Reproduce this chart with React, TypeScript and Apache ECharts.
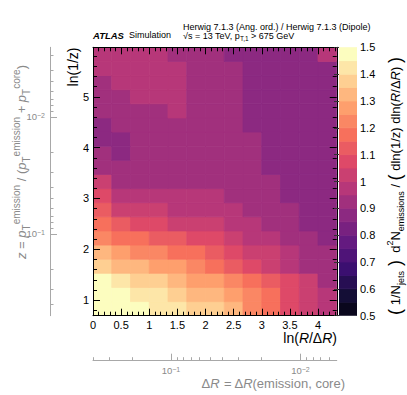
import React, { useEffect, useRef } from 'react';
import * as echarts from 'echarts';

const FONT = '"Liberation Sans", Arial, Helvetica, sans-serif';
const GRAY_TEXT = '#8a8a8a';
const GRAY_AXIS = '#a8a8a8';

// ---- binning of the Lund plane ----
const jetRadius = 0.4;
const lnRBinWidth = 1 / 3;
const lnRBinCount = 13;
const lnZMin = 0.693;
const lnZBinWidth = 0.278;
const lnZBinCount = 19;

// ---- ratio values: row 0 = lowest ln(1/z) bin, columns = ln(R/ΔR) bins ----
const ratioRows: number[][] = [
  [1.47, 1.47, 1.47, 1.42, 1.42, 1.37, 1.37, 1.32, 1.22, 1.17, 1.07, 1.02, 0.97],
  [1.47, 1.47, 1.42, 1.42, 1.37, 1.32, 1.32, 1.27, 1.22, 1.17, 1.07, 1.02, 0.97],
  [1.47, 1.42, 1.37, 1.37, 1.32, 1.27, 1.27, 1.22, 1.17, 1.12, 1.07, 1.02, 0.92],
  [1.37, 1.32, 1.32, 1.27, 1.27, 1.22, 1.17, 1.12, 1.07, 1.02, 0.97, 0.92, 0.92],
  [1.32, 1.27, 1.22, 1.22, 1.17, 1.17, 1.12, 1.07, 1.02, 1.02, 0.97, 0.92, 0.92],
  [1.22, 1.17, 1.17, 1.12, 1.12, 1.07, 1.07, 1.02, 0.97, 0.97, 0.92, 0.92, 0.87],
  [1.17, 1.12, 1.07, 1.07, 1.02, 1.02, 1.02, 0.97, 0.97, 0.92, 0.92, 0.87, 0.87],
  [1.12, 1.02, 1.02, 1.02, 0.97, 0.97, 0.97, 0.97, 0.92, 0.92, 0.92, 0.87, 0.87],
  [1.07, 0.97, 0.97, 0.97, 0.97, 0.97, 0.97, 0.92, 0.92, 0.92, 0.87, 0.87, 0.87],
  [1.02, 0.92, 0.92, 0.92, 0.92, 0.92, 0.92, 0.92, 0.92, 0.92, 0.87, 0.87, 0.87],
  [0.92, 0.92, 0.92, 0.92, 0.92, 0.92, 0.92, 0.92, 0.92, 0.87, 0.87, 0.87, 0.87],
  [0.92, 0.87, 0.92, 0.92, 0.92, 0.92, 0.92, 0.92, 0.92, 0.87, 0.87, 0.87, 0.87],
  [0.87, 0.87, 0.92, 0.92, 0.92, 0.92, 0.92, 0.92, 0.92, 0.87, 0.87, 0.87, 0.87],
  [0.87, 0.92, 0.92, 0.92, 0.92, 0.92, 0.92, 0.92, 0.87, 0.87, 0.87, 0.87, 0.87],
  [0.92, 0.92, 0.92, 0.92, 0.97, 0.92, 0.92, 0.92, 0.87, 0.87, 0.87, 0.87, 0.87],
  [0.92, 0.92, 0.97, 0.97, 0.97, 0.92, 0.92, 0.92, 0.87, 0.87, 0.87, 0.87, 0.87],
  [0.92, 0.97, 0.97, 0.97, 0.97, 0.92, 0.92, 0.92, 0.87, 0.87, 0.87, 0.87, 0.87],
  [0.97, 0.97, 0.97, 0.97, 0.97, 0.92, 0.92, 0.92, 0.87, 0.87, 0.87, 0.87, 0.87],
  [0.97, 0.97, 0.97, 0.97, 0.92, 0.92, 0.92, 0.87, 0.87, 0.87, 0.87, 0.87, 0.97],
];

// ---- colour scale levels ----
const levelEdges = [0.5, 0.55, 0.6, 0.65, 0.7, 0.75, 0.8, 0.85, 0.9, 0.95, 1.0,
  1.05, 1.1, 1.15, 1.2, 1.25, 1.3, 1.35, 1.4, 1.45, 1.5];
const colorbarTicks = [0.5, 0.6, 0.7, 0.8, 0.9, 1.0, 1.1, 1.2, 1.3, 1.4, 1.5];

// ---- axis ticks ----
const xMajorTicks = [0, 0.5, 1, 1.5, 2, 2.5, 3, 3.5, 4];
const xMinorTicks = [0.1, 0.2, 0.3, 0.4, 0.6, 0.7, 0.8, 0.9, 1.1, 1.2, 1.3, 1.4, 1.6, 1.7, 1.8, 1.9,
  2.1, 2.2, 2.3, 2.4, 2.6, 2.7, 2.8, 2.9, 3.1, 3.2, 3.3, 3.4, 3.6, 3.7, 3.8, 3.9, 4.1, 4.2, 4.3];
const yMajorTicks = [1, 2, 3, 4, 5];
const yMinorTicks = [0.8, 1.2, 1.4, 1.6, 1.8, 2.2, 2.4, 2.6, 2.8, 3.2, 3.4, 3.6, 3.8,
  4.2, 4.4, 4.6, 4.8, 5.2, 5.4, 5.6, 5.8];
const zMajorTicks = [0.1, 0.01];
const zMinorTicks = [0.4, 0.3, 0.2, 0.09, 0.08, 0.07, 0.06, 0.05, 0.04, 0.03, 0.02,
  0.009, 0.008, 0.007, 0.006, 0.005, 0.004, 0.003];
const dRMajorTicks = [0.1, 0.01];
const dRMinorTicks = [0.4, 0.3, 0.2, 0.09, 0.08, 0.07, 0.06, 0.05, 0.04, 0.03, 0.02,
  0.009, 0.008, 0.007, 0.006];

// ---- magma colour map (decile stops) ----
const magmaStops = ['#000004', '#140e36', '#3b0f70', '#641a80', '#8c2981', '#b73779',
  '#de4968', '#f7705c', '#fe9f6d', '#fecf92', '#fcfdbf'];

function hexToRgb(h: string) {
  return [1, 3, 5].map((i) => parseInt(h.slice(i, i + 2), 16));
}
function magma(t: number) {
  const s = Math.max(0, Math.min(1, t)) * (magmaStops.length - 1);
  const i = Math.min(magmaStops.length - 2, Math.floor(s));
  const f = s - i;
  const a = hexToRgb(magmaStops[i]);
  const b = hexToRgb(magmaStops[i + 1]);
  const c = a.map((v, k) => Math.round(v + (b[k] - v) * f));
  return `rgb(${c[0]},${c[1]},${c[2]})`;
}
const nLevels = levelEdges.length - 1;
// ROOT-style contour colouring: each level takes the palette colour near its upper end
const levelColors = levelEdges.slice(0, nLevels).map((_, i) => magma((i + 0.99) / nLevels));
function colorOf(v: number) {
  const lo = levelEdges[0];
  const hi = levelEdges[nLevels];
  const idx = Math.max(0, Math.min(nLevels - 1, Math.floor(((v - lo) / (hi - lo)) * nLevels + 1e-9)));
  return levelColors[idx];
}

const xMax = lnRBinCount * lnRBinWidth;
const yMax = lnZMin + lnZBinCount * lnZBinWidth;

const heatData: number[][] = [];
ratioRows.forEach((row, r) => {
  row.forEach((v, c) => {
    heatData.push([c * lnRBinWidth, (c + 1) * lnRBinWidth, lnZMin + r * lnZBinWidth, lnZMin + (r + 1) * lnZBinWidth, v]);
  });
});
const barData: number[][] = levelEdges.slice(0, nLevels).map((lo, i) => [0, 1, lo, levelEdges[i + 1], (lo + levelEdges[i + 1]) / 2]);

const renderCell = (_params: any, api: any) => {
  const a = api.coord([api.value(0), api.value(3)]);
  const b = api.coord([api.value(1), api.value(2)]);
  const col = colorOf(api.value(4));
  return {
    type: 'rect',
    shape: { x: a[0], y: a[1], width: b[0] - a[0], height: b[1] - a[1] },
    style: { fill: col, stroke: col, lineWidth: 0.8 },
  };
};

const PLOT = { left: 93, top: 47.3, width: 243.75, height: 268.4 };

const blackLine = { color: '#000', width: 1 };
const grayLine = { color: GRAY_AXIS, width: 1 };

function mainAxis(extra: any, ticks: number[], len: number, showLine: boolean, labels: boolean) {
  return {
    type: 'value',
    gridIndex: 0,
    z: 10,
    splitLine: { show: false },
    axisLine: { show: showLine, onZero: false, lineStyle: blackLine },
    axisTick: { show: true, inside: true, length: len, customValues: ticks, lineStyle: blackLine },
    axisLabel: labels
      ? { show: true, customValues: ticks, fontSize: 11, color: '#000', fontFamily: FONT, margin: 4 }
      : { show: false },
    ...extra,
  };
}

const logLabelFmt = (v: number) => {
  const e = Math.round(Math.log10(v));
  return `{b|10}{s|${e < 0 ? '\u2212' : ''}${Math.abs(e)}}`;
};
const logRich = {
  b: { fontSize: 9.5, color: GRAY_TEXT, fontFamily: FONT, lineHeight: 10, verticalAlign: 'bottom' },
  s: { fontSize: 7, color: GRAY_TEXT, fontFamily: FONT, lineHeight: 7, verticalAlign: 'top' },
};

function logAxis(extra: any, ticks: number[], len: number, showLine: boolean, labels: boolean) {
  return {
    type: 'log',
    logBase: 10,
    splitLine: { show: false },
    axisLine: { show: showLine, onZero: false, lineStyle: grayLine },
    axisTick: { show: true, inside: true, length: len, customValues: ticks, lineStyle: grayLine },
    axisLabel: labels
      ? { show: true, customValues: ticks, formatter: logLabelFmt, rich: logRich, margin: 5 }
      : { show: false },
    ...extra,
  };
}

const hidden = (gridIndex: number) => ({ type: 'value', gridIndex, show: false, min: 0, max: 1 });

const option = {
  animation: false,
  backgroundColor: '#ffffff',
  textStyle: { fontFamily: FONT },
  grid: [
    { ...PLOT },
    { left: 50, top: PLOT.top, width: 1, height: PLOT.height },
    { left: PLOT.left, top: 359.7, width: PLOT.width, height: 1 },
    { left: 339, top: PLOT.top, width: 18, height: PLOT.height },
  ],
  xAxis: [
    mainAxis({ position: 'bottom', min: 0, max: xMax }, xMajorTicks, 7, true, true),
    mainAxis({ position: 'bottom', min: 0, max: xMax }, xMinorTicks, 4, false, false),
    mainAxis({ position: 'top', min: 0, max: xMax }, xMajorTicks, 7, true, false),
    mainAxis({ position: 'top', min: 0, max: xMax }, xMinorTicks, 4, false, false),
    hidden(1),
    logAxis({ gridIndex: 2, position: 'bottom', inverse: true, min: jetRadius * Math.exp(-xMax), max: jetRadius * Math.exp(0) }, dRMajorTicks, 7, true, true),
    logAxis({ gridIndex: 2, position: 'bottom', inverse: true, min: jetRadius * Math.exp(-xMax), max: jetRadius * Math.exp(0) }, dRMinorTicks, 3.5, false, false),
    hidden(3),
  ],
  yAxis: [
    mainAxis({ position: 'left', min: lnZMin, max: yMax }, yMajorTicks, 7, true, true),
    mainAxis({ position: 'left', min: lnZMin, max: yMax }, yMinorTicks, 4, false, false),
    mainAxis({ position: 'right', min: lnZMin, max: yMax }, yMajorTicks, 7, true, false),
    mainAxis({ position: 'right', min: lnZMin, max: yMax }, yMinorTicks, 4, false, false),
    logAxis({ gridIndex: 1, position: 'left', inverse: true, min: Math.exp(-yMax), max: Math.exp(-lnZMin) }, zMajorTicks, 7, true, true),
    logAxis({ gridIndex: 1, position: 'left', inverse: true, min: Math.exp(-yMax), max: Math.exp(-lnZMin) }, zMinorTicks, 3.5, false, false),
    hidden(2),
    {
      type: 'value',
      gridIndex: 3,
      position: 'right',
      min: levelEdges[0],
      max: levelEdges[nLevels],
      z: 10,
      splitLine: { show: false },
      axisLine: { show: false },
      axisTick: { show: true, inside: true, length: 5, customValues: colorbarTicks, lineStyle: { color: '#333', width: 1 } },
      axisLabel: { show: true, customValues: colorbarTicks, fontSize: 11, color: '#000', fontFamily: FONT, margin: 3 },
    },
  ],
  series: [
    {
      type: 'custom',
      name: 'ratio',
      xAxisIndex: 0,
      yAxisIndex: 0,
      renderItem: renderCell,
      encode: { x: [0, 1], y: [2, 3] },
      data: heatData,
      clip: true,
      silent: true,
      z: 2,
    },
    {
      type: 'custom',
      name: 'colorbar',
      xAxisIndex: 7,
      yAxisIndex: 7,
      renderItem: renderCell,
      encode: { x: [0, 1], y: [2, 3] },
      data: barData,
      clip: true,
      silent: true,
      z: 2,
    },
  ],
  graphic: [
    {
      type: 'text', x: 93, y: 35.3,
      style: { text: 'ATLAS', fontSize: 9.5, fontWeight: 'bold', fontStyle: 'italic', fontFamily: FONT, fill: '#000', verticalAlign: 'middle' },
    },
    {
      type: 'text', x: 129, y: 35.3,
      style: { text: 'Simulation', fontSize: 9, fontFamily: FONT, fill: '#000', verticalAlign: 'middle' },
    },
    {
      type: 'text', x: 183, y: 27,
      style: { text: 'Herwig 7.1.3 (Ang. ord.) / Herwig 7.1.3 (Dipole)', fontSize: 9, fontFamily: FONT, fill: '#000', verticalAlign: 'middle' },
    },
    {
      type: 'text', x: 183, y: 35.8,
      style: {
        text: '{m|\u221As = 13 TeV, p}{sb|T,1}{m| > 675 GeV}',
        verticalAlign: 'middle',
        rich: {
          m: { fontSize: 9, fontFamily: FONT, fill: '#000', lineHeight: 12, verticalAlign: 'middle' },
          sb: { fontSize: 6.5, fontFamily: FONT, fill: '#000', lineHeight: 7, verticalAlign: 'bottom' },
        },
      },
    },
    {
      type: 'text', x: 73, y: 47.5, rotation: Math.PI / 2,
      style: { text: 'ln(1/z)', fontSize: 14, fontFamily: FONT, fill: '#000', align: 'right', verticalAlign: 'middle' },
    },
    {
      type: 'text', x: 337, y: 338,
      style: {
        text: '{m|ln(}{i|R}{m|/\u0394}{i|R}{m|)}',
        align: 'right', verticalAlign: 'middle',
        rich: {
          m: { fontSize: 14, fontFamily: FONT, fill: '#000', verticalAlign: 'middle' },
          i: { fontSize: 14, fontFamily: FONT, fontStyle: 'italic', fill: '#000', verticalAlign: 'middle' },
        },
      },
    },
    {
      type: 'text', x: 21, y: 162, rotation: Math.PI / 2,
      style: {
        text: '{i|z}{m| = }{i|p}{sb|T}{sp|emission}{m| / (}{i|p}{sb|T}{sp|emission}{m| + }{i|p}{sb|T}{sp|core}{m|)}',
        align: 'center', verticalAlign: 'middle',
        rich: {
          m: { fontSize: 13, fontFamily: FONT, fill: GRAY_TEXT, lineHeight: 20, verticalAlign: 'middle' },
          i: { fontSize: 13, fontFamily: FONT, fontStyle: 'italic', fill: GRAY_TEXT, lineHeight: 20, verticalAlign: 'middle' },
          sb: { fontSize: 10, fontFamily: FONT, fill: GRAY_TEXT, lineHeight: 10, verticalAlign: 'bottom' },
          sp: { fontSize: 10, fontFamily: FONT, fill: GRAY_TEXT, lineHeight: 10, verticalAlign: 'top' },
        },
      },
    },
    {
      type: 'text', x: 345, y: 383,
      style: {
        text: '{m|\u0394}{i|R}{m| = \u0394}{i|R}{m|(emission, core)}',
        align: 'right', verticalAlign: 'middle',
        rich: {
          m: { fontSize: 13, fontFamily: FONT, fill: GRAY_TEXT, lineHeight: 14, verticalAlign: 'middle' },
          i: { fontSize: 13, fontFamily: FONT, fontStyle: 'italic', fill: GRAY_TEXT, lineHeight: 14, verticalAlign: 'middle' },
        },
      },
    },
    {
      type: 'text', x: 395, y: 186, rotation: Math.PI / 2,
      style: {
        text: '{b|(}{m| 1/N}{sb|jets}{b| )}{m|  d}{sp|2}{m|N}{sb|emissions}{m| / }{b|(}{m| dln(1/z) dln(}{i|R}{m|/\u0394}{i|R}{m|) }{b|)}',
        align: 'center', verticalAlign: 'middle',
        rich: {
          m: { fontSize: 13, fontFamily: FONT, fill: '#000', lineHeight: 20, verticalAlign: 'middle' },
          i: { fontSize: 13, fontFamily: FONT, fontStyle: 'italic', fill: '#000', lineHeight: 20, verticalAlign: 'middle' },
          b: { fontSize: 18, fontFamily: FONT, fill: '#000', lineHeight: 20, verticalAlign: 'middle' },
          sb: { fontSize: 9, fontFamily: FONT, fill: '#000', lineHeight: 9, verticalAlign: 'bottom' },
          sp: { fontSize: 9, fontFamily: FONT, fill: '#000', lineHeight: 9, verticalAlign: 'top' },
        },
      },
    },
  ],
};

export default function App() {
  const ref = useRef<HTMLDivElement>(null);
  useEffect(() => {
    if (!ref.current) return;
    const chart = echarts.init(ref.current, null, { renderer: 'svg' });
    chart.setOption(option as any);
    return () => chart.dispose();
  }, []);
  return (
    <div
      ref={ref}
      style={{ position: 'absolute', left: 0, top: 0, width: 407, height: 395, background: '#fff' }}
    />
  );
}
